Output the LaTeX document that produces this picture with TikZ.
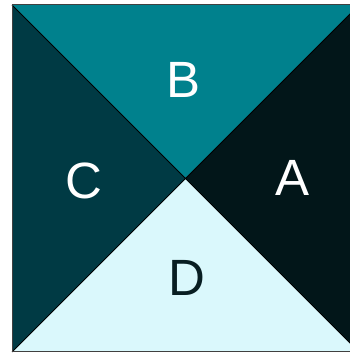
\documentclass[tikz,border=0pt]{standalone}
\usepackage{fontspec}
\setmainfont{Liberation Sans}
\definecolor{cB}{RGB}{0,129,141}
\definecolor{cA}{RGB}{2,22,25}
\definecolor{cC}{RGB}{0,58,68}
\definecolor{cD}{RGB}{218,248,252}
\definecolor{cDt}{RGB}{8,30,34}
\definecolor{edge}{RGB}{64,64,64}
\tikzset{
  lbl/.style={font=\fontsize{51}{51}\selectfont, inner sep=0pt},
  tri/.style={draw=black, line width=0.8pt},
}
\begin{document}
\begin{tikzpicture}[x=1pt,y=1pt]
\useasboundingbox (0,0) rectangle (349,354);
\coordinate (bl) at (12,2);
\coordinate (br) at (359,2);
\coordinate (tr) at (359,349);
\coordinate (tl) at (12,349);
\coordinate (m) at (185.5,175.5);
\fill[cB] (tl) -- (tr) -- (m) -- cycle;
\fill[cA] (tr) -- (br) -- (m) -- cycle;
\fill[cD] (br) -- (bl) -- (m) -- cycle;
\fill[cC] (bl) -- (tl) -- (m) -- cycle;
\draw[black, line width=0.8pt] (tl) -- (br) (tr) -- (bl);
\draw[edge, line width=1pt] (tr) -- (tl) -- (bl) -- (br);
\node[lbl, text=white] (B) at (184,274) {B};
\node[lbl, text=white] (A) at (293,176) {A};
\node[lbl, text=white] (C) at (84,173) {C};
\node[lbl, text=cDt] (D) at (187,76) {D};
\end{tikzpicture}
\end{document}
